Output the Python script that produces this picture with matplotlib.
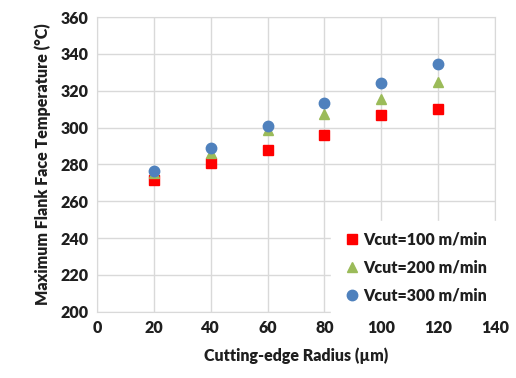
import matplotlib.pyplot as plt

# data
radius = [20, 40, 60, 80, 100, 120]
t_100 = [271.3, 280.6, 287.9, 295.8, 306.6, 309.9]
t_200 = [275.2, 286.4, 298.7, 307.5, 315.6, 324.8]
t_300 = [276.7, 288.8, 301.0, 313.1, 324.3, 334.4]

plt.rcParams['font.family'] = ['Lato', 'DejaVu Sans']

fig = plt.figure(figsize=(5.16, 3.78), dpi=100)
ax = fig.add_axes([0.188, 0.175, 0.771, 0.78])

ax.plot(radius, t_100, 's', color='#FF0000', ms=6.5, label='Vcut=100 m/min', zorder=3)
ax.plot(radius, t_200, '^', color='#9BBB59', ms=7.5, label='Vcut=200 m/min', zorder=3)
ax.plot(radius, t_300, 'o', color='#4F81BD', ms=7.5, label='Vcut=300 m/min', zorder=3)

ax.set_xlim(0, 140)
ax.set_ylim(200, 360)
ax.set_xticks(range(0, 141, 20))
ax.set_yticks(range(200, 361, 20))
ax.grid(True, color='#D9D9D9', linewidth=1)
ax.set_axisbelow(True)
for s in ax.spines.values():
    s.set_color('#D9D9D9')
ax.tick_params(length=0, labelsize=11.5, colors='#1f1f1f', pad=6)
for lbl in ax.get_xticklabels() + ax.get_yticklabels():
    lbl.set_fontweight('heavy')

ax.set_xlabel('Cutting-edge Radius (µm)', fontsize=11.5, fontweight='heavy', labelpad=8, color='#1f1f1f')
ax.set_ylabel('Maximum Flank Face Temperature (°C)', fontsize=11.5, fontweight='heavy', labelpad=7, color='#1f1f1f')

leg = ax.legend(loc='lower right', frameon=True, fontsize=11.5, handletextpad=0.1,
                borderaxespad=0.1, labelspacing=0.75, handlelength=1.2)
leg.get_frame().set_edgecolor('white')
leg.get_frame().set_facecolor('white')
leg.get_frame().set_alpha(1)
leg.get_frame().set_boxstyle('square', pad=0.3)
for t in leg.get_texts():
    t.set_fontweight('heavy')
    t.set_color('#1f1f1f')

fig.savefig('out.png', dpi=100)
